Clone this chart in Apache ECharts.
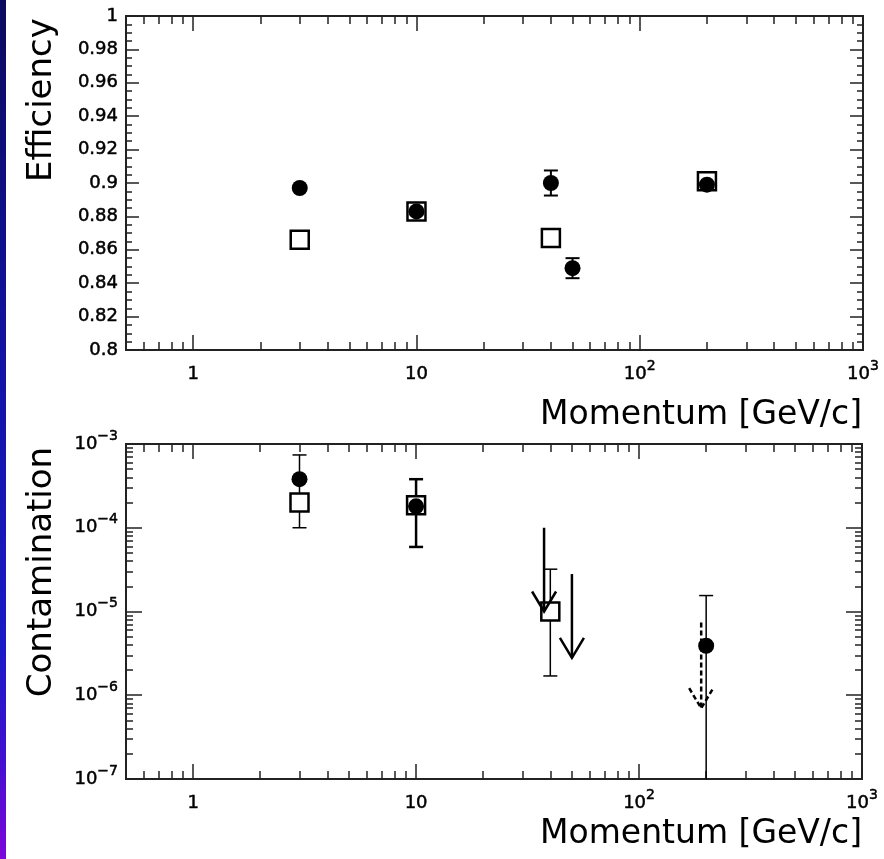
<!DOCTYPE html>
<html>
<head>
<meta charset="utf-8">
<script src="https://cdn.jsdelivr.net/npm/echarts@6/dist/echarts.min.js"></script>
<style>
html, body { margin: 0; padding: 0; background: #fff; }
#main { width: 884px; height: 859px; }
</style>
</head>
<body>
<div id="main"></div>
<script>
// efficiency panel
var effCircX = [3, 10, 40, 50, 200];
var effCircY = [0.897, 0.883, 0.900, 0.849, 0.899];
var effSqX = [3, 10, 40, 200];
var effSqY = [0.866, 0.883, 0.867, 0.901];
var effErrX = [40, 50];
var effErrLo = [0.8925, 0.843];
var effErrHi = [0.9075, 0.855];

// contamination panel
var conCircX = [3, 10, 200];
var conCircY = [3.8e-4, 1.8e-4, 3.9e-6];
var conSqX = [3, 10, 40];
var conSqY = [2.0e-4, 1.85e-4, 1.0e-5];
var conErrX = [3, 40, 200];
var conErrLo = [1.0e-4, 1.7e-6, 1e-8];
var conErrHi = [7.4e-4, 3.2e-5, 1.55e-5];
var conThickX = [10];
var conThickLo = [5.9e-5];
var conThickHi = [3.8e-4];
// upper limits
var limX = [37.5, 50];
var limFrom = [1.0e-4, 2.8e-5];
var limTo = [1.0e-5, 2.8e-6];
var limDashX = [190];
var limDashFrom = [7.4e-6];
var limDashTo = [7.0e-7];

// axis ticks
var xMajor = [1, 10, 100, 1000];
var conMajor = [1e-7, 1e-6, 1e-5, 1e-4, 1e-3];
var xMinor = [0.6, 0.7, 0.8, 0.9];
[1, 10, 100].forEach(function (d) { for (var k = 2; k <= 9; k++) xMinor.push(k * d); });
var conMinor = [];
[1e-7, 1e-6, 1e-5, 1e-4].forEach(function (d) { for (var k = 2; k <= 9; k++) conMinor.push(k * d); });

var FONT = '"DejaVu Sans", Verdana, sans-serif';
var INK = '#000';

var richLbl = {
    b: { fontSize: 18, fontFamily: FONT, color: INK, padding: [6, 0, 6, 0], textBorderColor: INK, textBorderWidth: 0.5 },
    s: { fontSize: 14, fontFamily: FONT, color: INK, verticalAlign: 'top', textBorderColor: INK, textBorderWidth: 0.5 }
};

function powFmt(v) {
    var e = Math.round(Math.log(v) / Math.LN10);
    if (e === 0) return '{b|1}';
    if (e === 1) return '{b|10}';
    return '{b|10}{s|' + (e < 0 ? '\u2212' + (-e) : e) + '}';
}

function tickAxis(grid, pos, type, min, max, vals, len) {
    return {
        gridIndex: grid, position: pos, type: type, min: min, max: max,
        axisLine: { show: false }, splitLine: { show: false },
        axisLabel: { show: false },
        axisTick: { show: true, inside: true, length: len, customValues: vals,
            lineStyle: { color: '#222', width: 1.5 } }
    };
}

function labelX(grid) {
    var a = tickAxis(grid, 'bottom', 'log', 0.5, 1000, xMajor, 15);
    a.axisLabel = { show: true, customValues: xMajor, formatter: powFmt, rich: richLbl, margin: 9 };
    return a;
}

var xAxes = [
    labelX(0),
    tickAxis(0, 'bottom', 'log', 0.5, 1000, xMinor, 8),
    tickAxis(0, 'top', 'log', 0.5, 1000, xMajor, 15),
    tickAxis(0, 'top', 'log', 0.5, 1000, xMinor, 8),
    labelX(1),
    tickAxis(1, 'bottom', 'log', 0.5, 1000, xMinor, 8),
    tickAxis(1, 'top', 'log', 0.5, 1000, xMajor, 15),
    tickAxis(1, 'top', 'log', 0.5, 1000, xMinor, 8)
];

function effY(pos, lbl) {
    return {
        gridIndex: 0, position: pos, type: 'value', min: 0.8, max: 1, interval: 0.02,
        axisLine: { show: false }, splitLine: { show: false },
        axisTick: { show: true, inside: true, length: 13, lineStyle: { color: '#222', width: 1.5 } },
        minorTick: { show: true, splitNumber: 4, length: 6, lineStyle: { color: '#222', width: 1.5 } },
        axisLabel: { show: lbl, margin: 8, fontSize: 18, fontFamily: FONT, color: INK,
            textBorderColor: INK, textBorderWidth: 0.5 }
    };
}

var conLblAxis = tickAxis(1, 'left', 'log', 1e-7, 1e-3, conMajor, 16);
conLblAxis.axisLabel = { show: true, customValues: conMajor, formatter: powFmt, rich: richLbl, margin: 8 };

var yAxes = [
    effY('left', true),
    effY('right', false),
    conLblAxis,
    tickAxis(1, 'left', 'log', 1e-7, 1e-3, conMinor, 7),
    tickAxis(1, 'right', 'log', 1e-7, 1e-3, conMajor, 16),
    tickAxis(1, 'right', 'log', 1e-7, 1e-3, conMinor, 7)
];

function zip(xs, ys) { return xs.map(function (x, i) { return [x, ys[i]]; }); }

function errBars(xi, yi, xs, lo, hi, w) {
    return {
        type: 'custom', xAxisIndex: xi, yAxisIndex: yi, clip: true, z: 1,
        data: xs.map(function (x, i) { return [x, lo[i], hi[i]]; }),
        renderItem: function (params, api) {
            var top = api.coord([api.value(0), api.value(2)]);
            var bot = api.coord([api.value(0), api.value(1)]);
            var st = { stroke: '#000', lineWidth: w };
            return { type: 'group', children: [
                { type: 'line', shape: { x1: top[0], y1: top[1], x2: bot[0], y2: bot[1] }, style: st },
                { type: 'line', shape: { x1: top[0] - 7, y1: top[1], x2: top[0] + 7, y2: top[1] }, style: st },
                { type: 'line', shape: { x1: bot[0] - 7, y1: bot[1], x2: bot[0] + 7, y2: bot[1] }, style: st }
            ] };
        }
    };
}

function arrows(xs, from, to, dash) {
    return {
        type: 'custom', xAxisIndex: 4, yAxisIndex: 2, clip: true, z: 5,
        data: xs.map(function (x, i) { return [x, from[i], to[i]]; }),
        renderItem: function (params, api) {
            var a = api.coord([api.value(0), api.value(1)]);
            var b = api.coord([api.value(0), api.value(2)]);
            var st = { stroke: '#000', lineWidth: 2.5, fill: null, lineDash: dash ? [5, 3] : null };
            return { type: 'group', children: [
                { type: 'line', shape: { x1: a[0], y1: a[1], x2: b[0], y2: b[1] }, style: st },
                { type: 'polyline', shape: { points: [[b[0] - 12, b[1] - 20], [b[0], b[1]], [b[0] + 12, b[1] - 20]] }, style: st }
            ] };
        }
    };
}

function squares(xi, yi, d) {
    return { type: 'scatter', xAxisIndex: xi, yAxisIndex: yi, data: d, z: 2,
        symbol: 'rect', symbolSize: 18,
        itemStyle: { color: '#fff', borderColor: '#000', borderWidth: 2.5, opacity: 1 } };
}
function circles(xi, yi, d) {
    return { type: 'scatter', xAxisIndex: xi, yAxisIndex: yi, data: d, z: 3,
        symbol: 'circle', symbolSize: 16, itemStyle: { color: '#000', opacity: 1 } };
}

var myChart = echarts.init(document.getElementById('main'));

var option = {
    animation: false,
    backgroundColor: '#fff',
    grid: [
        { left: 126, top: 16, width: 737, height: 334, show: true, borderColor: '#222', borderWidth: 2, outerBoundsMode: 'none' },
        { left: 126, top: 444, width: 736, height: 335, show: true, borderColor: '#222', borderWidth: 2, outerBoundsMode: 'none' }
    ],
    xAxis: xAxes,
    yAxis: yAxes,
    graphic: [
        { type: 'rect', left: 0, top: 0, shape: { width: 6, height: 859 }, silent: true,
          style: { fill: new echarts.graphic.LinearGradient(0, 0, 0, 1, [
              { offset: 0, color: '#0b0b5e' }, { offset: 0.45, color: '#1313a8' },
              { offset: 0.75, color: '#1a1ac6' }, { offset: 0.88, color: '#4010d0' },
              { offset: 1, color: '#7e06da' }]) } },
        { type: 'text', x: 42, y: 100, rotation: Math.PI / 2,
          style: { text: 'Efficiency', font: '34px ' + FONT, fill: INK, align: 'center', verticalAlign: 'middle', textAlign: 'center', textVerticalAlign: 'middle' } },
        { type: 'text', x: 42, y: 572, rotation: Math.PI / 2,
          style: { text: 'Contamination', font: '34px ' + FONT, fill: INK, align: 'center', verticalAlign: 'middle', textAlign: 'center', textVerticalAlign: 'middle' } },
        { type: 'text', x: 862, y: 415,
          style: { text: 'Momentum [GeV/c]', font: '33px ' + FONT, fill: INK, align: 'right', verticalAlign: 'middle', textAlign: 'right', textVerticalAlign: 'middle' } },
        { type: 'text', x: 862, y: 834,
          style: { text: 'Momentum [GeV/c]', font: '33px ' + FONT, fill: INK, align: 'right', verticalAlign: 'middle', textAlign: 'right', textVerticalAlign: 'middle' } }
    ],
    series: [
        errBars(0, 0, effErrX, effErrLo, effErrHi, 2),
        squares(0, 0, zip(effSqX, effSqY)),
        circles(0, 0, zip(effCircX, effCircY)),
        errBars(4, 2, conErrX, conErrLo, conErrHi, 1.5),
        errBars(4, 2, conThickX, conThickLo, conThickHi, 2.5),
        squares(4, 2, zip(conSqX, conSqY)),
        circles(4, 2, zip(conCircX, conCircY)),
        arrows(limX, limFrom, limTo, false),
        arrows(limDashX, limDashFrom, limDashTo, true)
    ]
};

myChart.setOption(option);
</script>
</body>
</html>
